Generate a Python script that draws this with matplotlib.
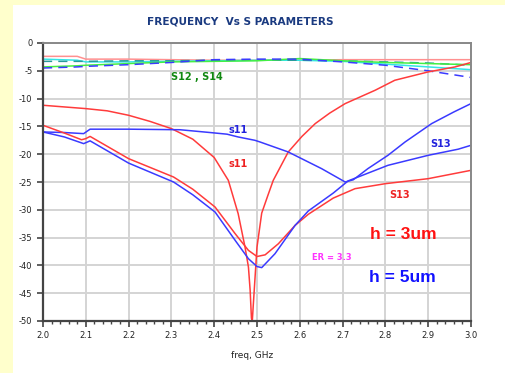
import numpy as np
import matplotlib.pyplot as plt
from matplotlib.patches import Rectangle

# data (freq in GHz, level in dB)

# h = 3um, S11
f_s11_h3 = [2.0, 2.05, 2.1, 2.15, 2.2, 2.25, 2.3, 2.35, 2.4, 2.433, 2.456, 2.472, 2.48, 2.484, 2.487,
            2.489, 2.491, 2.495, 2.5, 2.511, 2.525, 2.538, 2.573, 2.605, 2.636, 2.67, 2.706, 2.776, 2.822,
            2.9, 2.963, 3.0]
s11_h3 = [-11.2, -11.5, -11.8, -12.2, -13.0, -14.1, -15.4, -17.3, -20.6, -24.7, -30.7, -36.7, -40.3, -44.5, -49.5,
          -50.0, -47.5, -42.7, -36.7, -30.6, -27.5, -24.7, -19.6, -16.8, -14.5, -12.6, -10.9, -8.5, -6.7,
          -5.2, -4.3, -3.5]

# h = 5um, S11
f_s11_h5 = [2.0, 2.05, 2.095, 2.11, 2.2, 2.32, 2.39, 2.43, 2.456, 2.495, 2.507, 2.573, 2.651, 2.706, 2.725,
            2.759, 2.806, 2.846, 2.908, 2.96, 3.0]
s11_h5 = [-16.0, -16.1, -16.3, -15.5, -15.5, -15.6, -16.1, -16.4, -16.9, -17.5, -17.8, -19.6, -22.6, -25.0, -24.6,
          -22.6, -20.2, -17.8, -14.5, -12.4, -10.9]

# h = 3um, S13
f_s13_h3 = [2.0, 2.05, 2.09, 2.1, 2.11, 2.2, 2.305, 2.35, 2.402, 2.449, 2.48, 2.5, 2.519, 2.55, 2.589, 2.62,
            2.678, 2.729, 2.8, 2.9, 3.0]
s13_h3 = [-14.8, -16.2, -17.4, -17.2, -16.8, -20.8, -24.1, -26.3, -29.5, -34.3, -37.3, -38.4, -38.1, -36.1, -32.8, -30.8,
          -27.9, -26.2, -25.3, -24.4, -22.9]

# h = 5um, S13
f_s13_h5 = [2.0, 2.05, 2.095, 2.11, 2.2, 2.305, 2.35, 2.402, 2.449, 2.48, 2.5, 2.511, 2.542, 2.589, 2.62, 2.678,
            2.713, 2.806, 2.9, 2.97, 3.0]
s13_h5 = [-16.0, -16.9, -18.1, -17.6, -21.6, -25.0, -27.3, -30.4, -35.5, -38.8, -40.2, -40.4, -37.9, -32.8, -30.2, -27.0,
          -24.8, -22.0, -20.2, -19.1, -18.4]

# S12 / S14 near the top
f_top = [2.0, 2.08, 2.1, 2.2, 2.3, 2.4, 2.5, 2.6, 2.7, 2.8, 2.9, 3.0]
s12_h3 = [-2.4, -2.4, -2.9, -2.9, -3.0, -3.1, -3.1, -3.1, -3.0, -3.0, -3.0, -3.0]
s14_h3 = [-2.9, -3.1, -3.4, -3.4, -3.3, -3.2, -3.1, -3.1, -3.3, -3.8, -4.3, -4.8]
s12_h5 = [-4.3, -4.1, -4.0, -3.7, -3.4, -3.3, -3.2, -2.8, -3.2, -3.5, -3.7, -3.9]
s14_h5 = [-4.5, -4.3, -4.2, -3.9, -3.5, -3.0, -2.9, -2.9, -3.4, -4.0, -5.0, -6.2]
s14_mid = [-3.3, -3.3, -3.3, -3.2, -3.2, -3.1, -3.1, -3.1, -3.2, -3.4, -3.6, -4.0]

x_ticks = [2.0, 2.1, 2.2, 2.3, 2.4, 2.5, 2.6, 2.7, 2.8, 2.9, 3.0]
y_ticks = [0, -5, -10, -15, -20, -25, -30, -35, -40, -45, -50]

RED = '#ff3b3b'
BLUE = '#3a3aff'

fig = plt.figure(figsize=(5.05, 3.73), dpi=100, facecolor='#ffffcc')
fig.patches.append(Rectangle((13 / 505, 0), 1, 1 - 5 / 373, transform=fig.transFigure,
                             facecolor='white', edgecolor='none', zorder=-10))

ax = fig.add_axes([43 / 505, 52 / 373, 428 / 505, 278 / 373])
ax.set_facecolor('white')

ax.plot(f_top, s12_h3, color='#ff9090', lw=1.1)
ax.plot(f_top, s14_h3, color='#33e5e5', lw=1.1)
ax.plot(f_top, s14_mid, color='#2a9a9a', lw=1.1, dashes=(6, 4))
ax.plot(f_top, s12_h5, color='#44ee44', lw=1.1)
ax.plot(f_top, s14_h5, color=BLUE, lw=1.1, dashes=(6, 4))

ax.plot(f_s11_h3, s11_h3, color=RED, lw=1.1)
ax.plot(f_s11_h5, s11_h5, color=BLUE, lw=1.1)
ax.plot(f_s13_h3, s13_h3, color=RED, lw=1.1)
ax.plot(f_s13_h5, s13_h5, color=BLUE, lw=1.1)

ax.set_xlim(2.0, 3.0)
ax.set_ylim(-50, 0)
ax.set_xticks(x_ticks)
ax.set_xticklabels([f'{v:.1f}' for v in x_ticks])
ax.set_xticks(np.arange(2.0, 3.001, 0.02), minor=True)
ax.set_yticks(y_ticks)
ax.set_yticklabels([str(v) for v in y_ticks])
ax.tick_params(axis='both', which='major', labelsize=6, length=4, width=1.2, color='#444444', labelcolor='#222222')
ax.tick_params(axis='x', which='minor', length=2.5, width=1, color='#444444')
ax.grid(True, which='major', color='#d4d4d4', lw=1.4)
ax.set_axisbelow(True)
for side in ['left', 'bottom']:
    ax.spines[side].set_color('#444444')
    ax.spines[side].set_linewidth(1.6)
for side in ['top', 'right']:
    ax.spines[side].set_color('#888888')
    ax.spines[side].set_linewidth(1.4)

fig.text(240 / 505, 1 - 21 / 373, 'FREQUENCY  Vs S PARAMETERS', ha='center', va='center',
         fontsize=7.6, fontweight='bold', color='#1a3a80')
fig.text(252 / 505, 1 - 355 / 373, 'freq, GHz', ha='center', va='center', fontsize=6.5, color='#222222')

ax.text(2.36, -6.1, 'S12 , S14', color='#118811', fontsize=7, fontweight='bold', ha='center', va='center')
ax.text(2.455, -15.6, 's11', color='#2222dd', fontsize=7, fontweight='bold', ha='center', va='center')
ax.text(2.457, -21.7, 's11', color='#ee2222', fontsize=7, fontweight='bold', ha='center', va='center')
ax.text(2.93, -18.2, 'S13', color='#2222dd', fontsize=7, fontweight='bold', ha='center', va='center')
ax.text(2.832, -27.4, 'S13', color='#ee2222', fontsize=7, fontweight='bold', ha='center', va='center')
ax.text(2.675, -38.5, 'ER = 3.3', color='#ff33ff', fontsize=6, fontweight='bold', ha='center', va='center')
ax.text(2.843, -34.4, 'h = 3um', color='#ff1111', fontsize=12.5, fontweight='bold', ha='center', va='center',
        family='Liberation Sans')
ax.text(2.84, -42.2, 'h = 5um', color='#1111ff', fontsize=12.5, fontweight='bold', ha='center', va='center',
        family='Liberation Sans')

fig.savefig('out.png', dpi=100, facecolor=fig.get_facecolor())
